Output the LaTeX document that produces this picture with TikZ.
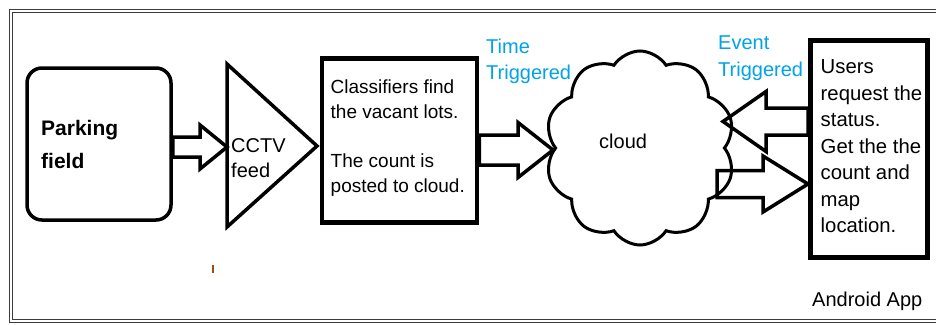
\documentclass[tikz,border=0pt]{standalone}
\usepackage{fontspec}
\setmainfont{Liberation Sans}
\usetikzlibrary{calc,shapes.symbols}
\definecolor{tblue}{RGB}{0,162,232}
\definecolor{tickbrown}{RGB}{150,80,20}
\definecolor{framegray}{RGB}{60,60,60}
% block arrow: tail (x used), tip, half shaft, half head, head length
\newcommand\blkarrow[5]{%
  \draw[blk] let \p1=(#1), \p2=(#2), \n1={sign(\x2-\x1)} in
    (\x1,\y2+#3pt) -- (\x2-\n1*#5pt,\y2+#3pt) -- (\x2-\n1*#5pt,\y2+#4pt)
    -- (\x2,\y2) -- (\x2-\n1*#5pt,\y2-#4pt) -- (\x2-\n1*#5pt,\y2-#3pt)
    -- (\x1,\y2-#3pt) -- cycle;}
\begin{document}
\begin{tikzpicture}[x=1pt,y=-1pt,
  frame/.style={draw=framegray,line width=1pt},
  box/.style={draw,rectangle,inner sep=0,line width=4.5pt},
  blk/.style={draw,line width=3.5pt,line join=miter},
  txt/.style={inner sep=0,align=left,anchor=north west,font=\fontsize{20}{26}\selectfont},
  btxt/.style={txt,text=tblue}]
\useasboundingbox (0,0) rectangle (936,324);
\fill[white] (0,0) rectangle (936,324);
% frame
\draw[frame] (9,9) rectangle (960,322);
\draw[frame] (12,12) rectangle (960,319);
% parking field
\node[box,rounded corners=15pt,line width=3.5pt,minimum width=144,minimum height=152] (park) at (99,144) {};
\node[txt,font=\fontsize{21}{33}\selectfont\bfseries] (parktxt) at (41,120) {Parking\\field};
% CCTV triangle
\coordinate (triA) at (227,64);
\coordinate (triB) at (317,146);
\coordinate (triC) at (227,227);
\draw[line width=3.5pt] (triA) -- (triB) -- (triC) -- cycle;
\node[txt,font=\fontsize{20}{25}\selectfont] (cctv) at (231,138.5) {CCTV\\feed};
\coordinate (cctvL) at (227,147);
% classifier box
\node[box,minimum width=155,minimum height=164] (cls) at (399.5,140.5) {};
\node[txt,font=\fontsize{19}{25}\selectfont] (clstxt) at (330.5,79.3)
  {Classifiers find\\the vacant lots.\\[24pt]The count is\\posted to cloud.};
% cloud
\node[cloud,draw,line width=3pt,cloud puffs=10,cloud puff arc=115,aspect=1,
      minimum width=190,minimum height=194,inner sep=0] (cloud) at (640,148) {};
\node[inner sep=0,anchor=base west,font=\fontsize{20}{26}\selectfont] (cloudtxt) at (599,148) {cloud};
\coordinate (cloudW) at (553,150);
\coordinate (cloudE) at (723,121.5);
\coordinate (cloudR) at (717,184);
% users box
\node[box,line width=5pt,minimum width=117,minimum height=217] (users) at (869,149) {};
\node[txt,font=\fontsize{20.3}{26.5}\selectfont] (userstxt) at (820.5,59.5)
  {Users\\request the\\status.\\Get the the\\count and\\map\\location.};
\node[inner sep=0,anchor=base west,font=\fontsize{20}{26}\selectfont] (android) at (812,306) {Android App};
% labels
\node[btxt] (time) at (486,38.6) {Time\\Triggered};
\node[btxt,font=\fontsize{20}{27}\selectfont] (event) at (718,35.6) {Event\\Triggered};
% arrows
\blkarrow{park.east}{cctvL}{10}{22}{27}
\blkarrow{cls.east}{cloudW}{15}{27.5}{35}
\blkarrow{users.west |- cloudE}{cloudE}{13.5}{30}{43}
\blkarrow{cloudR}{users.west |- cloudR}{13.5}{28}{45}
% small tick
\draw[tickbrown,line width=1.3pt] (213,265) -- (213,273);
\end{tikzpicture}
\end{document}
